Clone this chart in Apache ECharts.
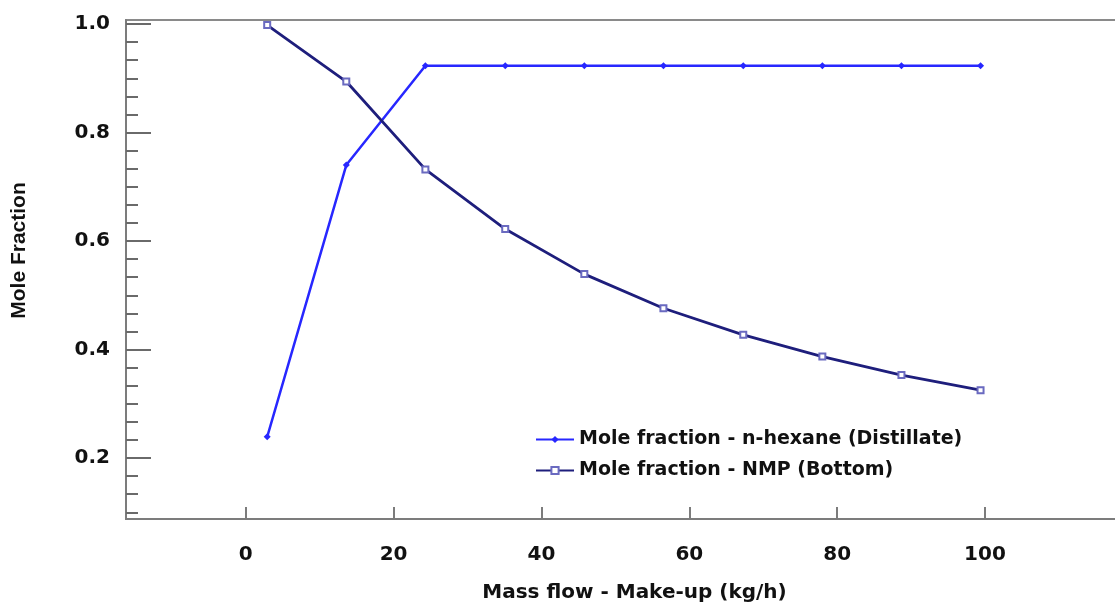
<!DOCTYPE html>
<html>
<head>
<meta charset="utf-8">
<script src="https://cdn.jsdelivr.net/npm/echarts@6/dist/echarts.min.js"></script>
<style>
  html, body { margin: 0; padding: 0; background: #fff; }
  #chart { width: 1115px; height: 603px; }
</style>
</head>
<body>
<div id="chart"></div>
<script>
// make-up mass flow (kg/h)
var massFlow = [2.9, 13.6, 24.3, 35.1, 45.8, 56.5, 67.3, 78.0, 88.7, 99.4];
// mole fractions
var hexaneDistillate = [0.239, 0.740, 0.923, 0.923, 0.923, 0.923, 0.923, 0.923, 0.923, 0.923];
var nmpBottom = [0.998, 0.894, 0.732, 0.622, 0.539, 0.476, 0.427, 0.387, 0.353, 0.325];

var xTicks = [0, 20, 40, 60, 80, 100];
var yTicks = [0.2, 0.4, 0.6, 0.8, 1.0];
var yMinorTicks = [0.1, 0.1333, 0.1667, 0.2, 0.2333, 0.2667, 0.3, 0.3333, 0.3667, 0.4,
    0.4333, 0.4667, 0.5, 0.5333, 0.5667, 0.6, 0.6333, 0.6667, 0.7, 0.7333, 0.7667, 0.8,
    0.8333, 0.8667, 0.9, 0.9333, 0.9667, 1.0];

var seriesNames = ['Mole fraction - n-hexane (Distillate)', 'Mole fraction - NMP (Bottom)'];

function pairs(xs, ys) {
    var out = [];
    for (var i = 0; i < xs.length; i++) {
        out.push([xs[i], ys[i]]);
    }
    return out;
}

var font = 'DejaVu Sans';
var axisGray = '#7c7c7c';

var chart = echarts.init(document.getElementById('chart'));
var op = {
    animation: false,
    grid: {
        left: 126,
        top: 20,
        right: -6,
        bottom: 84,
        outerBoundsMode: 'none',
        containLabel: false,
        show: true,
        borderColor: '#8a8a8a',
        borderWidth: 2
    },
    legend: {
        orient: 'vertical',
        left: 530,
        top: 425,
        itemWidth: 38,
        itemHeight: 9,
        itemGap: 12,
        data: seriesNames,
        textStyle: {
            fontFamily: font,
            fontWeight: 'bold',
            fontSize: 19,
            color: '#111'
        }
    },
    xAxis: {
        type: 'value',
        min: -16.2,
        max: 118.4,
        name: 'Mass flow - Make-up (kg/h)',
        nameLocation: 'middle',
        nameGap: 64,
        nameTextStyle: {
            fontFamily: font,
            fontWeight: 'bold',
            fontSize: 20,
            color: '#111',
            padding: [0, 0, 0, 22]
        },
        axisLine: { onZero: false, lineStyle: { color: axisGray, width: 2 } },
        axisTick: {
            inside: true,
            length: 12,
            customValues: xTicks,
            lineStyle: { color: axisGray, width: 2 }
        },
        axisLabel: {
            customValues: xTicks,
            margin: 26,
            fontFamily: font,
            fontWeight: 'bold',
            fontSize: 20,
            color: '#111'
        },
        splitLine: { show: false }
    },
    yAxis: [{
        type: 'value',
        min: 0.0876,
        max: 1.0074,
        name: 'Mole Fraction',
        nameLocation: 'middle',
        nameGap: 96,
        nameTextStyle: {
            fontFamily: 'Liberation Sans',
            fontWeight: 'bold',
            fontSize: 21,
            color: '#111',
            padding: [0, 0, 0, 38]
        },
        axisLine: { onZero: false, lineStyle: { color: axisGray, width: 2 } },
        axisTick: {
            inside: true,
            length: 25,
            customValues: yTicks,
            lineStyle: { color: '#6a6a6a', width: 2 }
        },
        axisLabel: {
            customValues: yTicks,
            margin: 16,
            formatter: function (v) { return v.toFixed(1); },
            fontFamily: font,
            fontWeight: 'bold',
            fontSize: 20,
            color: '#111'
        },
        splitLine: { show: false }
    }, {
        // minor ticks only
        type: 'value',
        position: 'left',
        min: 0.0876,
        max: 1.0074,
        axisLine: { show: false, onZero: false },
        axisTick: {
            inside: true,
            length: 12,
            customValues: yMinorTicks,
            lineStyle: { color: '#6a6a6a', width: 2 }
        },
        axisLabel: { show: false },
        splitLine: { show: false }
    }],
    series: [{
        name: seriesNames[0],
        type: 'line',
        data: pairs(massFlow, hexaneDistillate),
        symbol: 'diamond',
        symbolSize: 7,
        lineStyle: { color: '#2727ff', width: 2.5 },
        itemStyle: { color: '#2727ff' }
    }, {
        name: seriesNames[1],
        type: 'line',
        data: pairs(massFlow, nmpBottom),
        symbol: 'emptyRect',
        symbolSize: 6,
        lineStyle: { color: '#1e1e7c', width: 2.8 },
        itemStyle: { color: '#6a6ac0', borderColor: '#6a6ac0', borderWidth: 1.5 }
    }]
};
chart.setOption(op);
</script>
</body>
</html>
